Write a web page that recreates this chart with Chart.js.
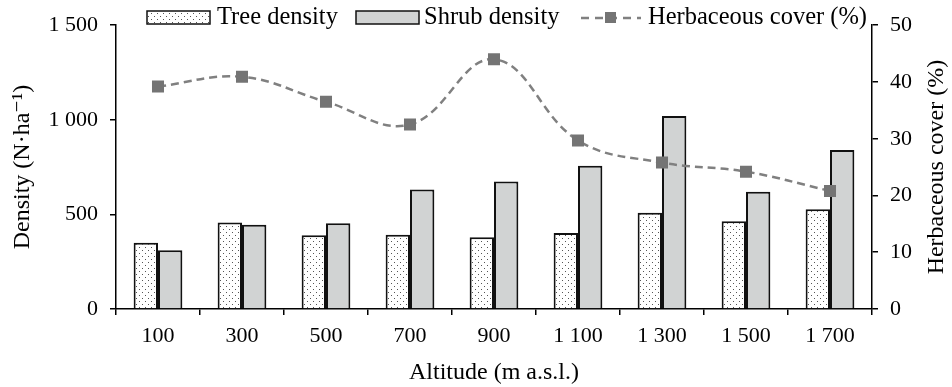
<!DOCTYPE html>
<html>
<head>
<meta charset="utf-8">
<script src="https://cdn.jsdelivr.net/npm/chart.js@4.4.0/dist/chart.umd.min.js"></script>
<style>
  html, body { margin: 0; padding: 0; background: #fff; }
  #wrap { width: 952px; height: 387px; }
</style>
</head>
<body>
<div id="wrap"><canvas id="chart" width="952" height="387"></canvas></div>
<script>
// data
var altitudes = ['100', '300', '500', '700', '900', '1 100', '1 300', '1 500', '1 700'];
var treeDensity = [350, 457, 390, 393, 379, 402, 509, 464, 527];
var shrubDensity = [310, 445, 453, 632, 674, 757, 1020, 620, 840];
var herbCover = [39.2, 40.9, 36.5, 32.5, 44.0, 29.7, 25.8, 24.2, 20.8];
var densityMax = 1500, densityStep = 500;
var coverMax = 50, coverStep = 10;

var FONT = '"Liberation Serif", "DejaVu Serif", serif';

function spaced(v) {
  return String(v).replace(/\B(?=(\d{3})+(?!\d))/g, ' ');
}

// dotted fill for tree bars
function dotPattern() {
  var c = document.createElement('canvas');
  c.width = 6; c.height = 6;
  var x = c.getContext('2d');
  x.fillStyle = '#fff';
  x.fillRect(0, 0, 6, 6);
  x.fillStyle = '#555';
  x.fillRect(1, 1, 1, 1);
  x.fillRect(4, 4, 1, 1);
  return x.createPattern(c, 'repeat');
}
var dots = dotPattern();

// legend + right title drawn by hand
var extras = {
  id: 'extras',
  afterDraw: function(chart) {
    var ctx = chart.ctx;
    var y = 17;
    ctx.save();
    ctx.font = '24.5px ' + FONT;
    ctx.textBaseline = 'middle';
    ctx.textAlign = 'left';

    // tree box
    ctx.fillStyle = dots;
    ctx.fillRect(147, y - 6, 63, 13);
    ctx.strokeStyle = '#111';
    ctx.lineWidth = 1.5;
    ctx.strokeRect(147, y - 6, 63, 13);
    ctx.fillStyle = '#000';
    ctx.fillText('Tree density', 217, y + 1);

    // shrub box
    ctx.fillStyle = '#d1d3d3';
    ctx.fillRect(356, y - 6, 63, 13);
    ctx.strokeRect(356, y - 6, 63, 13);
    ctx.fillStyle = '#000';
    ctx.fillText('Shrub density', 424, y + 1);

    // line sample
    ctx.strokeStyle = '#808080';
    ctx.lineWidth = 2.5;
    ctx.setLineDash([8, 6]);
    ctx.beginPath();
    ctx.moveTo(581, y + 1);
    ctx.lineTo(641, y + 1);
    ctx.stroke();
    ctx.setLineDash([]);
    ctx.fillStyle = '#747474';
    ctx.fillRect(605, y - 5, 11, 11);
    ctx.fillStyle = '#000';
    ctx.fillText('Herbaceous cover (%)', 648, y + 1);

    // right axis title, reading upward
    var a = chart.chartArea;
    ctx.translate(937, (a.top + a.bottom) / 2);
    ctx.rotate(-Math.PI / 2);
    ctx.textAlign = 'center';
    ctx.font = '24px ' + FONT;
    ctx.fillText('Herbaceous cover (%)', 0, 0);
    ctx.restore();
  }
};

var axisColor = '#000';

new Chart(document.getElementById('chart'), {
  type: 'bar',
  data: {
    labels: altitudes,
    datasets: [
      {
        type: 'line',
        label: 'Herbaceous cover (%)',
        data: herbCover,
        yAxisID: 'y1',
        order: 0,
        borderColor: '#808080',
        borderWidth: 2.5,
        borderDash: [8, 5],
        tension: 0.4,
        fill: false,
        pointStyle: 'rect',
        pointRadius: 8.5,
        pointBackgroundColor: '#747474',
        pointBorderWidth: 0
      },
      {
        label: 'Tree density',
        data: treeDensity,
        yAxisID: 'y',
        order: 1,
        backgroundColor: dots,
        borderColor: '#111',
        borderWidth: 2,
        borderSkipped: 'bottom',
        categoryPercentage: 0.58,
        barPercentage: 1.0
      },
      {
        label: 'Shrub density',
        data: shrubDensity,
        yAxisID: 'y',
        order: 1,
        backgroundColor: '#d1d3d3',
        borderColor: '#111',
        borderWidth: 2,
        borderSkipped: 'bottom',
        categoryPercentage: 0.58,
        barPercentage: 1.0
      }
    ]
  },
  options: {
    responsive: false,
    animation: false,
    layout: { padding: { top: 24, left: 0, right: 0, bottom: 0 } },
    plugins: {
      legend: { display: false },
      tooltip: { enabled: false }
    },
    scales: {
      x: {
        offset: true,
        grid: { drawOnChartArea: false, color: axisColor, lineWidth: 1.5, tickLength: 6, offset: true },
        border: { color: axisColor, width: 1.5 },
        ticks: { color: '#000', font: { family: FONT, size: 22 }, padding: 8, maxRotation: 0 },
        title: { display: true, text: 'Altitude (m a.s.l.)', color: '#000', font: { family: FONT, size: 24 }, padding: { top: 0, bottom: 0 } },
        afterFit: function(s) { s.height = 78; }
      },
      y: {
        position: 'left',
        min: 0,
        max: densityMax,
        grid: { drawOnChartArea: false, color: axisColor, lineWidth: 1.5, tickLength: 6 },
        border: { color: axisColor, width: 1.5 },
        ticks: { stepSize: densityStep, color: '#000', font: { family: FONT, size: 22 }, padding: 12,
          callback: function(v) { return spaced(v); } },
        title: { display: true, text: 'Density (N·ha⁻¹)', color: '#000', font: { family: FONT, size: 24 }, padding: { top: 8, bottom: 0 } },
        afterFit: function(s) { s.width = 116; }
      },
      y1: {
        position: 'right',
        min: 0,
        max: coverMax,
        grid: { drawOnChartArea: false, color: axisColor, lineWidth: 1.5, tickLength: 6 },
        border: { color: axisColor, width: 1.5 },
        ticks: { stepSize: coverStep, color: '#000', font: { family: FONT, size: 22 }, padding: 12 },
        afterFit: function(s) { s.width = 80; }
      }
    }
  },
  plugins: [extras]
});
</script>
</body>
</html>
